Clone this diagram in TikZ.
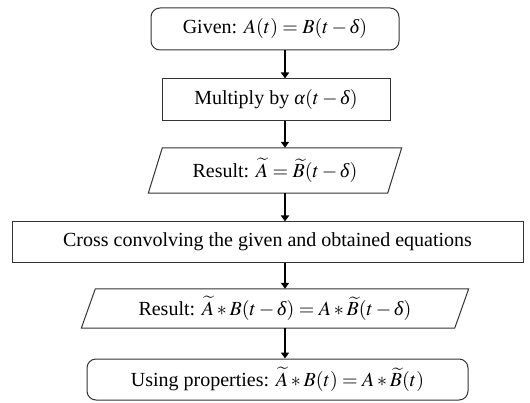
\documentclass[tikz,border=0pt]{standalone}
\usepackage{amsmath,amssymb}
\usepackage{mathptmx}
\usepackage{fontspec}
\setmainfont{Liberation Serif}
\usepackage{tikz}
\usetikzlibrary{arrows.meta}

\newcommand{\gdelta}{\textit{δ\/}}
\newcommand{\galpha}{\textit{α\/}}

\tikzset{
    stepbox/.style={draw=black!80, line width=1pt, inner sep=0pt, align=center},
    roundbox/.style={stepbox, rounded corners=9pt},
    slantbox/.style={inner sep=0pt, align=center},
    flow/.style={line width=2.8pt, -{Triangle[width=8pt,length=6pt]}}
}

\begin{document}
\begin{tikzpicture}[x=1pt,y=1pt,font=\fontsize{20}{24}\selectfont]
    \useasboundingbox (0,0) rectangle (530,402);
    \node[roundbox, minimum width=248, minimum height=42] (given) at (275,373) {Given: $A(t) = B(t-\gdelta)$};
    \node[stepbox, minimum width=228, minimum height=42] (mult) at (276,302) {Multiply by $\galpha(t-\gdelta)$};
    \node[slantbox, minimum width=239, minimum height=45] (res1) at (275,231.5) {Result: $\widetilde{A} = \widetilde{B}(t-\gdelta)$};
    \node[stepbox, minimum width=511, minimum height=40] (cross) at (267.5,160) {Cross convolving the given and obtained equations};
    \node[slantbox, minimum width=373, minimum height=39] (res2) at (275,93.5) {Result: $\widetilde{A} * B(t-\gdelta) = A * \widetilde{B}(t-\gdelta)$};
    \node[roundbox, minimum width=381, minimum height=41] (using) at (277.5,22.5) {Using properties: $\widetilde{A} * B(t) = A * \widetilde{B}(t)$};

    % parallelogram outlines
    \draw[draw=black!80, line width=1pt] ([xshift=7]res1.north west) -- ([xshift=7]res1.north east)
        -- ([xshift=-7]res1.south east) -- ([xshift=-7]res1.south west) -- cycle;
    \draw[draw=black!80, line width=1pt] ([xshift=7]res2.north west) -- ([xshift=7]res2.north east)
        -- ([xshift=-7]res2.south east) -- ([xshift=-7]res2.south west) -- cycle;

    \coordinate (ax) at (285,0);
    \draw[flow] (given.south -| ax) -- (mult.north -| ax);
    \draw[flow] (mult.south -| ax) -- (res1.north -| ax);
    \draw[flow] (res1.south -| ax) -- (cross.north -| ax);
    \draw[flow] (cross.south -| ax) -- (res2.north -| ax);
    \draw[flow] (res2.south -| ax) -- (using.north -| ax);

\end{tikzpicture}
\end{document}
